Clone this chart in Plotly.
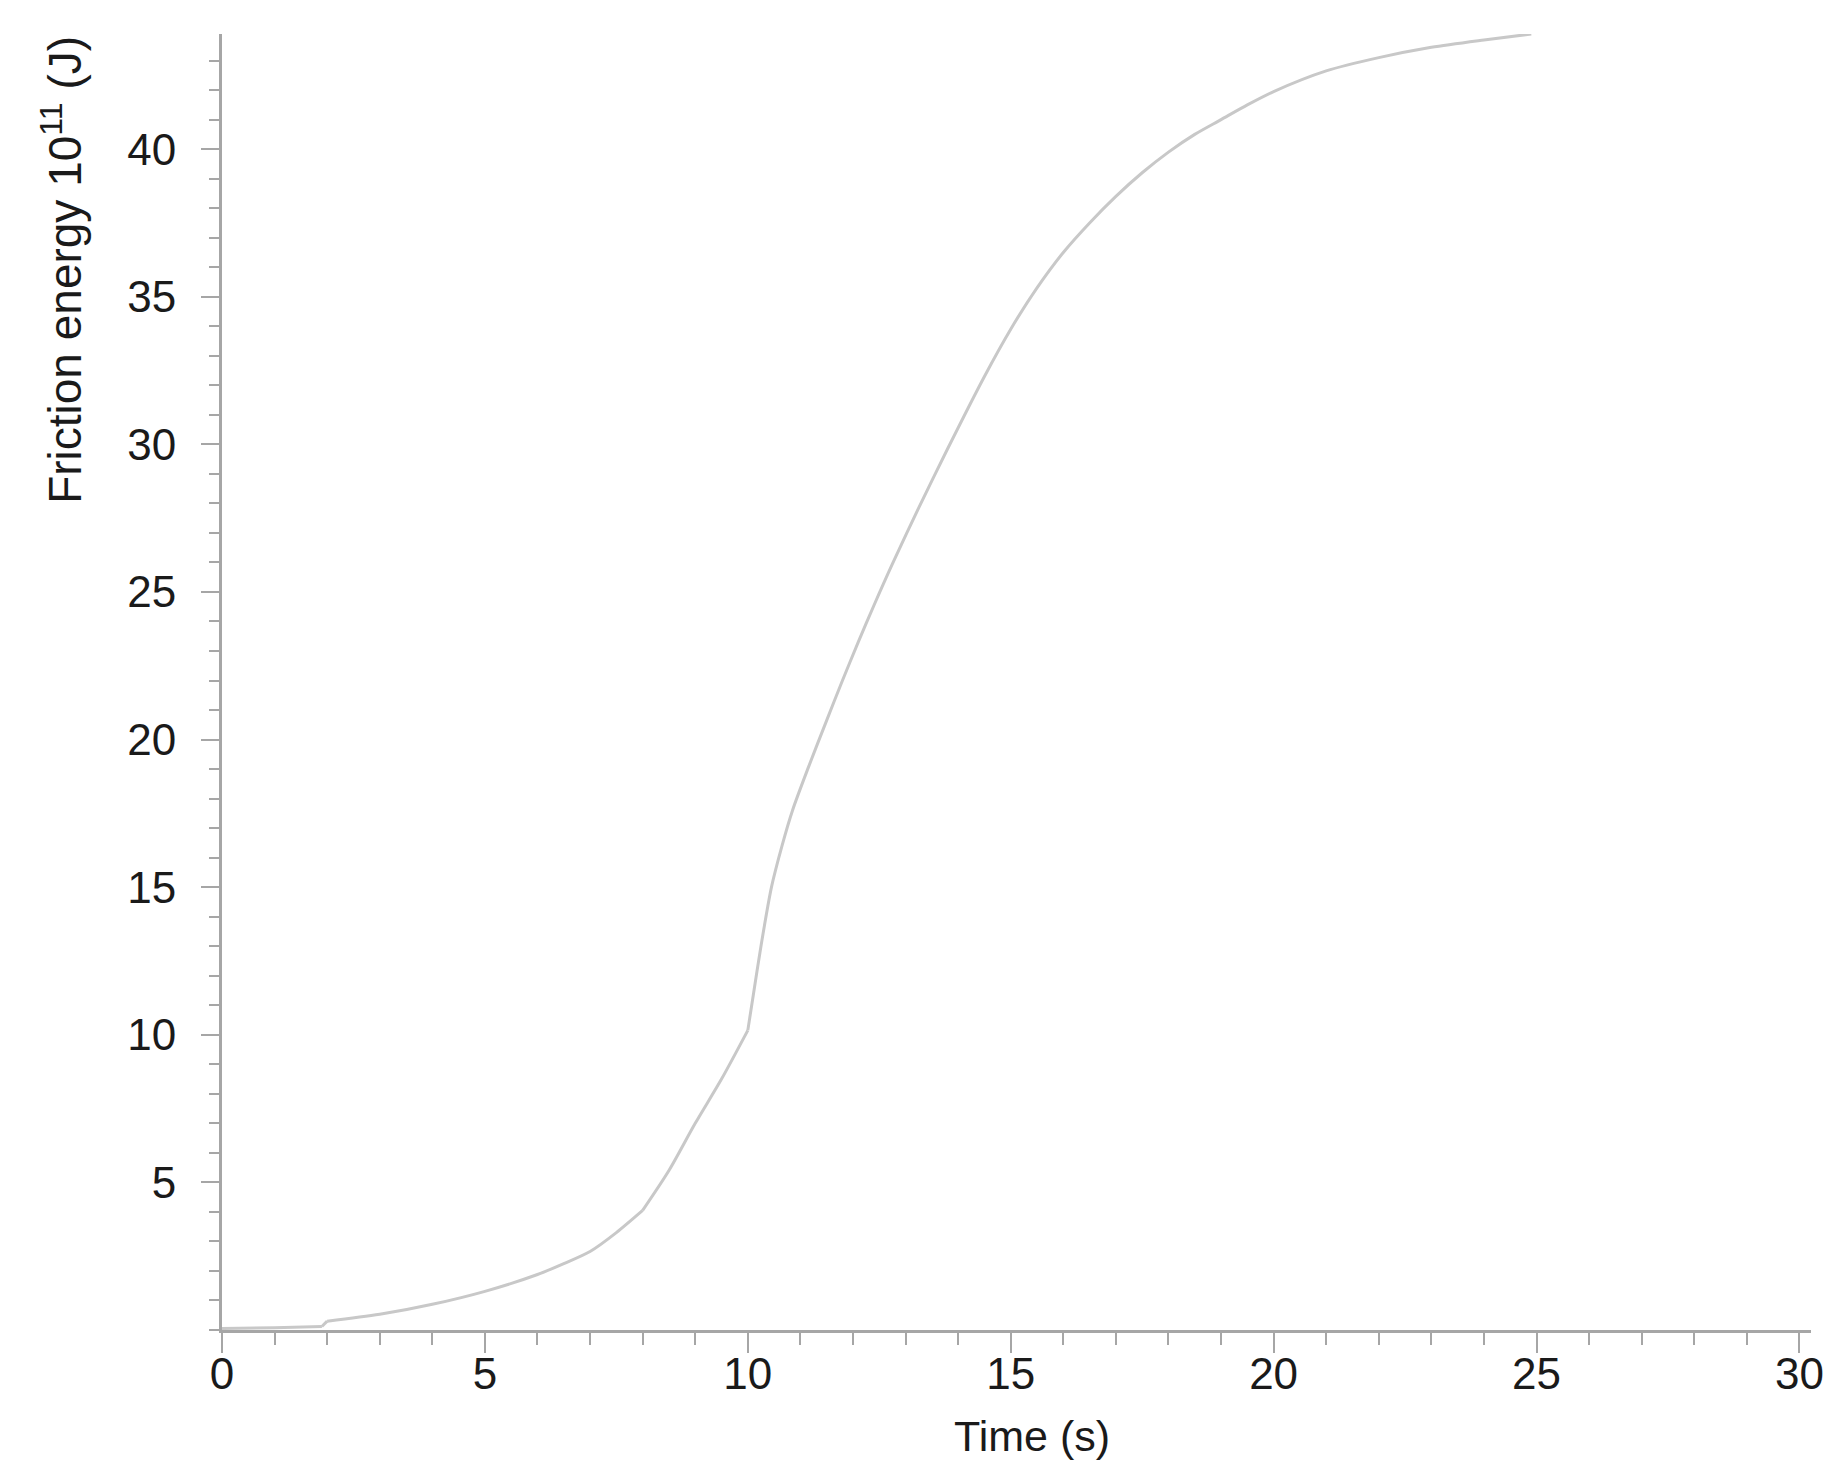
import plotly.graph_objects as go

# Data
time_s = [0, 1.0, 1.9, 2.0, 3, 4, 5, 6, 6.5, 7, 7.5, 8, 8.5, 9, 9.5, 10,
          10.1, 10.25, 10.45, 10.65, 10.85, 11.15, 11.5, 11.8, 12.1, 12.4,
          12.75, 13.25, 13.8, 14.5, 15, 15.5, 16, 16.5, 17, 17.5, 18, 18.5,
          19, 19.5, 20, 21, 22, 23, 24, 24.9]
friction_energy = [0.05, 0.08, 0.12, 0.3, 0.53, 0.87, 1.31, 1.88, 2.25, 2.66,
                   3.3, 4.05, 5.4, 7.0, 8.5, 10.15, 11.3, 13.0, 15.0, 16.4,
                   17.6, 19.05, 20.65, 22.0, 23.3, 24.55, 25.95, 27.85, 29.85,
                   32.3, 33.9, 35.3, 36.5, 37.5, 38.4, 39.2, 39.9, 40.5, 41.0,
                   41.5, 41.95, 42.65, 43.1, 43.45, 43.7, 43.9]
# times where the curve has a visible corner
corner_times = [1.9, 2.0, 8, 10]

x_ticks = [0, 5, 10, 15, 20, 25, 30]
y_ticks = [5, 10, 15, 20, 25, 30, 35, 40]

FONT = "Liberation Sans, Arial, sans-serif"
AXIS_COLOR = "#a6a6a6"
TEXT_COLOR = "#1a1a1a"
LINE_COLOR = "#c8c8c8"

fig = go.Figure()

# split the series at its corners and smooth each piece
breaks = [0] + [time_s.index(c) for c in corner_times] + [len(time_s) - 1]
for a, b in zip(breaks[:-1], breaks[1:]):
    fig.add_trace(go.Scatter(
        x=time_s[a:b + 1], y=friction_energy[a:b + 1], mode="lines",
        line=dict(color=LINE_COLOR, width=3, shape="spline", smoothing=0.8),
        showlegend=False, hoverinfo="skip",
    ))

fig.update_layout(
    width=1833, height=1471,
    margin=dict(l=214, r=30, t=26, b=149),
    paper_bgcolor="white", plot_bgcolor="white",
    font=dict(family=FONT, size=44, color=TEXT_COLOR),
)

fig.update_xaxes(
    range=[0, 30.22],
    tickmode="array", tickvals=x_ticks, ticktext=[str(v) for v in x_ticks],
    ticks="outside", ticklen=20, tickwidth=2, tickcolor=AXIS_COLOR,
    minor=dict(dtick=1, tick0=0, ticks="outside", ticklen=12, tickwidth=2,
               tickcolor=AXIS_COLOR, showgrid=False),
    showline=True, linecolor=AXIS_COLOR, linewidth=3,
    showgrid=False, zeroline=False,
    ticklabelstandoff=-17,
    tickfont=dict(family=FONT, size=44, color=TEXT_COLOR),
)

fig.update_yaxes(
    range=[0, 43.9],
    tickmode="array", tickvals=y_ticks, ticktext=[str(v) for v in y_ticks],
    ticks="outside", ticklen=18, tickwidth=2, tickcolor=AXIS_COLOR,
    minor=dict(dtick=1, tick0=0, ticks="outside", ticklen=10, tickwidth=2,
               tickcolor=AXIS_COLOR, showgrid=False),
    showline=True, linecolor=AXIS_COLOR, linewidth=3,
    showgrid=False, zeroline=False,
    ticklabelstandoff=16,
    tickfont=dict(family=FONT, size=44, color=TEXT_COLOR),
)

# axis titles
fig.add_annotation(
    text="Friction energy 10<sup>11</sup> (J)",
    xref="paper", yref="paper", x=0, y=0.818,
    xanchor="center", yanchor="middle", xshift=-160,
    textangle=-90, showarrow=False,
    font=dict(family=FONT, size=46, color=TEXT_COLOR),
)
fig.add_annotation(
    text="Time (s)",
    xref="paper", yref="paper", x=0.5, y=0,
    xanchor="center", yanchor="middle", xshift=15, yshift=-106,
    showarrow=False,
    font=dict(family=FONT, size=43, color=TEXT_COLOR),
)

fig.write_html("out.html")
